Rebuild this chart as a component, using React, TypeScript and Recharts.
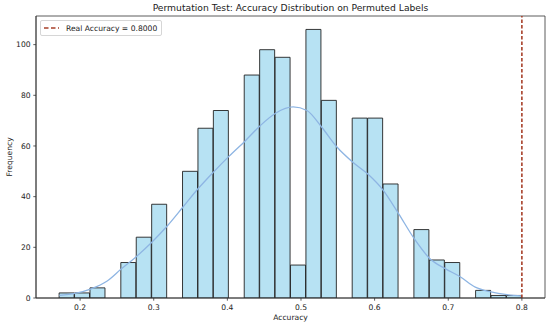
import React from 'react';
import { ComposedChart, Bar, Line, XAxis, YAxis, ReferenceLine, ReferenceArea, Legend } from 'recharts';

// Histogram bin edges (accuracy)
const BIN_EDGES = [
  0.1715, 0.19245, 0.2134, 0.23435, 0.2553, 0.27625, 0.2972, 0.31815, 0.3391, 0.36005,
  0.381, 0.40195, 0.4229, 0.44385, 0.4648, 0.48575, 0.5067, 0.52765, 0.5486, 0.56955,
  0.5905, 0.61145, 0.6324, 0.65335, 0.6743, 0.69525, 0.7162, 0.73715, 0.7581, 0.77905, 0.8,
];
// Counts per bin
const BIN_COUNTS = [
  2, 2, 4, 0, 14, 24, 37, 0, 50, 67,
  74, 0, 88, 98, 95, 13, 106, 78, 0, 71,
  71, 45, 0, 27, 15, 14, 0, 3, 1, 1,
];
// KDE curve (scaled to counts)
const KDE_X = [
  0.1719, 0.1932, 0.215, 0.2363, 0.2561, 0.277, 0.2974, 0.3186, 0.34, 0.3607,
  0.3811, 0.4024, 0.4242, 0.4446, 0.4659, 0.4894, 0.508, 0.5279, 0.5488, 0.57,
  0.5904, 0.6117, 0.6325, 0.6538, 0.6751, 0.6959, 0.7167, 0.7367, 0.758, 0.7798, 0.8,
];
const KDE_Y = [
  1.0, 1.8, 3.6, 6.6, 11.5, 16.5, 22, 28.5, 36, 43.3,
  49.7, 56, 62, 68, 73, 75.4, 74, 67.5, 59.6, 53.7,
  49, 42.5, 33.3, 23.4, 15.5, 11.6, 8.3, 4.3, 2.4, 1.3, 0.8,
];
const X_TICKS = [0.2, 0.3, 0.4, 0.5, 0.6, 0.7, 0.8];
const Y_TICKS = [0, 20, 40, 60, 80, 100];
const REAL_ACCURACY = 0.8;
const X_DOMAIN: [number, number] = [0.1401, 0.8314];
const Y_DOMAIN: [number, number] = [0, 111.3];

const TITLE = 'Permutation Test: Accuracy Distribution on Permuted Labels';
const X_LABEL = 'Accuracy';
const Y_LABEL = 'Frequency';
const LEGEND_LABEL = 'Real Accuracy = 0.8000';

const histData = BIN_COUNTS.map((c, i) => ({ x: (BIN_EDGES[i] + BIN_EDGES[i + 1]) / 2, count: c }));
const kdeData = KDE_X.map((x, i) => ({ x, y: KDE_Y[i] }));

const FONT = "'DejaVu Sans', sans-serif";
const RED = '#A8402A';

const tickStyle = { fontSize: 7.6, fill: '#222', fontFamily: FONT };

const renderLegend = () => (
  <div
    style={{
      width: 120,
      height: 14,
      border: '1px solid #d6d6d6',
      borderRadius: 2,
      background: 'rgba(255,255,255,0.85)',
      display: 'flex',
      alignItems: 'center',
      fontFamily: FONT,
      fontSize: 7.6,
      color: '#222',
      boxSizing: 'content-box',
    }}
  >
    <svg width={22} height={14} style={{ display: 'block' }}>
      <line x1={3} x2={18} y1={7} y2={7} stroke={RED} strokeWidth={1.6} strokeDasharray="4.5 2.5" />
    </svg>
    <span style={{ marginLeft: 3, whiteSpace: 'nowrap' }}>{LEGEND_LABEL}</span>
  </div>
);

const YLabel = (props: any) => {
  const vb = props.viewBox || { x: 0, y: 16, width: 36, height: 282 };
  const cx = vb.x + 9.5;
  const cy = vb.y + vb.height / 2;
  return (
    <text
      x={cx}
      y={cy}
      transform={`rotate(-90, ${cx}, ${cy})`}
      textAnchor="middle"
      dominantBaseline="central"
      style={{ fontSize: 7.6, fill: '#222', fontFamily: FONT }}
    >
      {Y_LABEL}
    </text>
  );
};

const XLabel = (props: any) => {
  const vb = props.viewBox || { x: 36, y: 298, width: 509, height: 27 };
  return (
    <text
      x={vb.x + vb.width / 2}
      y={vb.y + 22}
      textAnchor="middle"
      style={{ fontSize: 7.6, fill: '#222', fontFamily: FONT }}
    >
      {X_LABEL}
    </text>
  );
};

export default function App() {
  return (
    <div style={{ position: 'absolute', left: 0, top: 0, width: 550, height: 325, background: '#fff', fontFamily: FONT }}>
      <div
        style={{
          position: 'absolute',
          left: 36,
          width: 509,
          top: 3.3,
          textAlign: 'center',
          fontSize: 9.2,
          lineHeight: '10px',
          color: '#222',
          fontFamily: FONT,
          whiteSpace: 'nowrap',
        }}
      >
        {TITLE}
      </div>
      <ComposedChart
        width={550}
        height={325}
        data={histData}
        margin={{ top: 16, right: 5, bottom: 0, left: 0 }}
        barCategoryGap={0}
        barGap={0}
      >
        <XAxis
          xAxisId="h"
          type="number"
          dataKey="x"
          domain={X_DOMAIN}
          allowDataOverflow
          ticks={X_TICKS}
          tickFormatter={(v: number) => v.toFixed(1)}
          height={27}
          tickSize={2.7}
          tickMargin={3.8}
          tick={tickStyle}
          stroke="#333"
          axisLine={{ stroke: '#333', strokeWidth: 0.8 }}
          tickLine={{ stroke: '#333', strokeWidth: 0.8 }}
          label={<XLabel />}
        />
        <XAxis xAxisId="k" type="number" dataKey="x" domain={X_DOMAIN} allowDataOverflow hide />
        <YAxis
          type="number"
          domain={Y_DOMAIN}
          allowDataOverflow
          ticks={Y_TICKS}
          width={36}
          tickSize={2.7}
          tickMargin={2.7}
          tick={tickStyle}
          axisLine={{ stroke: '#333', strokeWidth: 0.8 }}
          tickLine={{ stroke: '#333', strokeWidth: 0.8 }}
          label={<YLabel />}
        />
        <ReferenceArea
          xAxisId="h"
          x1={X_DOMAIN[0]}
          x2={X_DOMAIN[1]}
          y1={Y_DOMAIN[0]}
          y2={Y_DOMAIN[1]}
          fill="none"
          fillOpacity={0}
          stroke="#333"
          strokeWidth={0.8}
          ifOverflow="visible"
        />
        <Bar
          xAxisId="h"
          dataKey="count"
          fill="#87CEEB"
          fillOpacity={0.6}
          stroke="#222"
          strokeWidth={0.9}
          isAnimationActive={false}
        />
        <Line
          xAxisId="k"
          data={kdeData}
          dataKey="y"
          type="monotone"
          stroke="#8EB5E3"
          strokeWidth={1.3}
          dot={false}
          activeDot={false}
          isAnimationActive={false}
        />
        <ReferenceLine
          xAxisId="h"
          x={REAL_ACCURACY}
          stroke={RED}
          strokeWidth={1.6}
          strokeDasharray="3.5 2"
        />
        <Legend
          layout="vertical"
          align="center"
          verticalAlign="middle"
          content={renderLegend}
          wrapperStyle={{ left: 40, top: 20, width: 'auto', height: 'auto' }}
        />
      </ComposedChart>
    </div>
  );
}
